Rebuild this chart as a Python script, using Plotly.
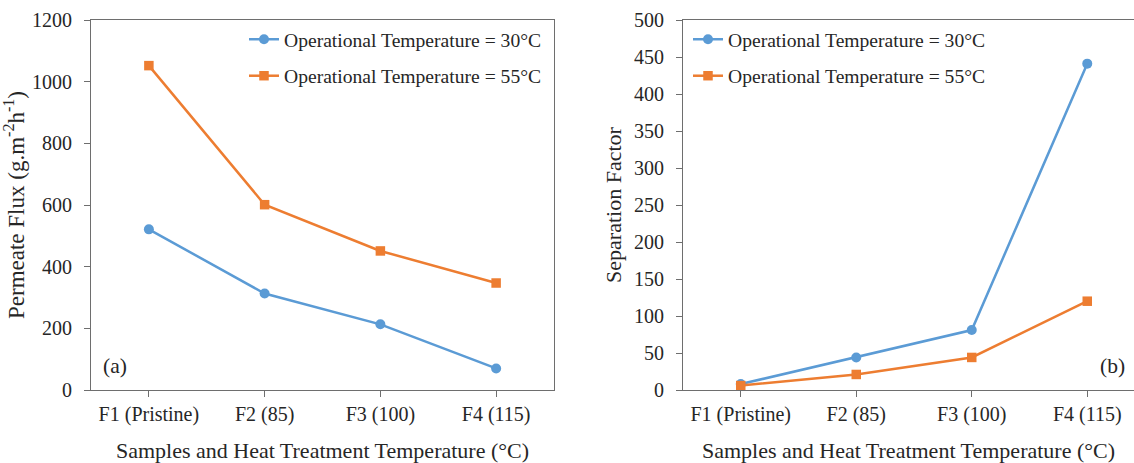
import plotly.graph_objects as go

# Samples on the x-axis
samples = ["F1 (Pristine)", "F2 (85)", "F3 (100)", "F4 (115)"]

# (a) Permeate flux, g.m-2h-1
flux_30 = [521, 313, 213, 70]
flux_55 = [1052, 601, 451, 347]

# (b) Separation factor
sep_30 = [8, 44, 81, 441]
sep_55 = [6, 21, 44, 120]

names = ["Operational Temperature = 30°C", "Operational Temperature = 55°C"]
BLUE = "#5B9BD5"
ORANGE = "#ED7D31"
FONT = "Liberation Serif"
TXT = "#262626"
AXC = "#6e6e6e"
W, H = 1134, 463

fig = go.Figure()

def add_pair(xa, ya, y30, y55, legend):
    fig.add_trace(go.Scatter(
        x=samples, y=y30, name=names[0], mode="lines+markers",
        line=dict(color=BLUE, width=2.5),
        marker=dict(symbol="circle", size=10, color=BLUE),
        xaxis=xa, yaxis=ya, legend=legend, legendgroup=legend + "a"))
    fig.add_trace(go.Scatter(
        x=samples, y=y55, name=names[1], mode="lines+markers",
        line=dict(color=ORANGE, width=2.5),
        marker=dict(symbol="square", size=9.5, color=ORANGE),
        xaxis=xa, yaxis=ya, legend=legend, legendgroup=legend + "b"))

add_pair("x", "y", flux_30, flux_55, "legend")
add_pair("x2", "y2", sep_30, sep_55, "legend2")

px = lambda v: v / W
py = lambda v: 1 - v / H

top, bottom = 20, 390
ydom = [py(bottom), py(top)]

axis_common = dict(
    showline=True, linecolor=AXC, linewidth=1, showgrid=False, zeroline=False,
    ticks="outside", tickcolor=AXC, ticklen=6, tickwidth=1, automargin=False,
    tickfont=dict(family=FONT, size=20, color=TXT),
)
xtitle = dict(text="Samples and Heat Treatment Temperature (°C)",
              font=dict(family=FONT, size=22, color=TXT), standoff=24)

step = 115.5  # pixels per category
right_end = W
right_start = 683
x2_hi = -0.5 + (right_end - right_start) / step

legend_common = dict(
    font=dict(family=FONT, size=19.6, color=TXT), bgcolor="rgba(0,0,0,0)",
    traceorder="grouped", tracegroupgap=8, itemwidth=30,
    xanchor="left", yanchor="top",
)

fig.update_layout(
    width=W, height=H, margin=dict(l=0, r=0, t=0, b=0),
    paper_bgcolor="white", plot_bgcolor="white",
    showlegend=True,
    xaxis=dict(axis_common, domain=[px(91), px(554)], type="category",
               range=[-0.5, 3.5], mirror=True, anchor="y", title=xtitle),
    yaxis=dict(axis_common, domain=ydom, range=[0, 1200], dtick=200,
               mirror=True, anchor="x", ticklabelstandoff=8,
               title=dict(text="Permeate Flux (g.m<sup>-2</sup>h<sup>-1</sup>)",
                          font=dict(family=FONT, size=23, color=TXT), standoff=3)),
    xaxis2=dict(axis_common, domain=[px(683), 1.0], type="category",
                range=[-0.5, x2_hi], mirror=True, anchor="y2", title=xtitle),
    yaxis2=dict(axis_common, domain=ydom, range=[0, 500], dtick=50,
                anchor="x2", ticklabelstandoff=8,
                title=dict(text="Separation Factor",
                           font=dict(family=FONT, size=22, color=TXT), standoff=6)),
    legend=dict(legend_common, x=px(244), y=py(20)),
    legend2=dict(legend_common, x=px(688), y=py(20)),
    annotations=[
        dict(text="(a)", x=px(101), y=py(366), xref="paper", yref="paper",
             xanchor="left", yanchor="middle", showarrow=False,
             font=dict(family=FONT, size=21.5, color=TXT)),
        dict(text="(b)", x=px(1127), y=py(366), xref="paper", yref="paper",
             xanchor="right", yanchor="middle", showarrow=False,
             font=dict(family=FONT, size=21.5, color=TXT)),
    ],
)

fig.write_html("out.html")
